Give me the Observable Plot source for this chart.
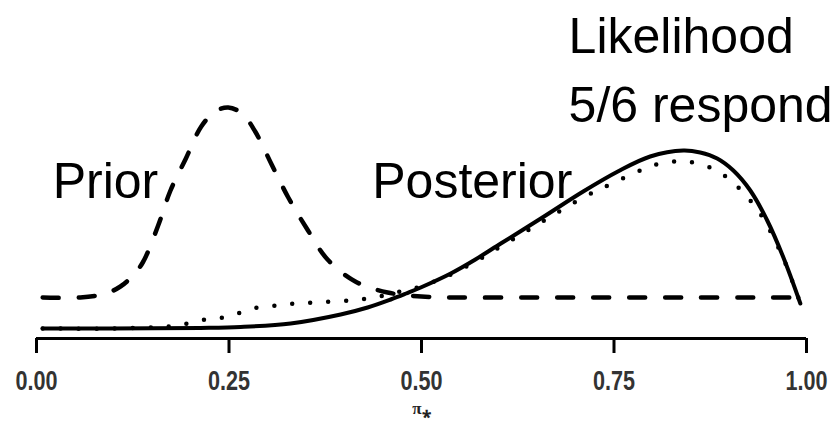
<!DOCTYPE html>
<html>
<head>
<meta charset="utf-8">
<script src="https://cdn.jsdelivr.net/npm/d3@7"></script>
<script src="https://cdn.jsdelivr.net/npm/@observablehq/plot@0.6"></script>
<style>
  html, body { margin: 0; padding: 0; background: #ffffff; }
  #chart svg { display: block; }
</style>
</head>
<body>
<div id="chart"></div>
<script>
// Prior (dashed)
const priorX = [0.008, 0.057, 0.090, 0.109, 0.124, 0.138, 0.158, 0.174, 0.194, 0.214, 0.232, 0.249, 0.267, 0.284, 0.306, 0.327, 0.351, 0.378, 0.414, 0.456, 0.50, 0.55, 0.65, 0.75, 0.85, 0.95, 0.983];
const priorY = [0.31, 0.31, 0.35, 0.42, 0.52, 0.66, 1.03, 1.38, 1.70, 2.02, 2.17, 2.21, 2.15, 1.97, 1.63, 1.31, 1.00, 0.69, 0.47, 0.36, 0.32, 0.31, 0.31, 0.31, 0.31, 0.31, 0.31];

// Likelihood (solid)
const likeX = [0.008, 0.08, 0.15, 0.213, 0.265, 0.330, 0.395, 0.430, 0.460, 0.480, 0.499, 0.538, 0.570, 0.603, 0.655, 0.710, 0.755, 0.797, 0.840, 0.862, 0.884, 0.905, 0.927, 0.949, 0.970, 0.992];
const likeY = [0, 0, 0.002, 0.006, 0.015, 0.05, 0.14, 0.21, 0.29, 0.35, 0.41, 0.55, 0.69, 0.85, 1.10, 1.37, 1.57, 1.72, 1.78, 1.76, 1.70, 1.58, 1.38, 1.08, 0.71, 0.25];

// Posterior (dotted)
const postX = [0.008, 0.10, 0.17, 0.196, 0.219, 0.242, 0.265, 0.287, 0.313, 0.336, 0.360, 0.384, 0.408, 0.430, 0.451, 0.473, 0.499, 0.538, 0.570, 0.603, 0.655, 0.710, 0.745, 0.784, 0.810, 0.843, 0.875, 0.897, 0.914, 0.927, 0.943, 0.970, 0.992];
const postY = [0, 0, 0.02, 0.05, 0.09, 0.11, 0.16, 0.21, 0.23, 0.25, 0.26, 0.27, 0.28, 0.30, 0.33, 0.37, 0.42, 0.54, 0.67, 0.82, 1.06, 1.31, 1.44, 1.58, 1.65, 1.67, 1.61, 1.51, 1.39, 1.28, 1.11, 0.70, 0.25];

// Axis ticks
const tickValues = [0, 0.25, 0.5, 0.75, 1];
const tickLabels = ["0.00", "0.25", "0.50", "0.75", "1.00"];
const axisTitle = "π⁎";

// Curve labels
const labelText = ["Prior", "Posterior", "Likelihood", "5/6 respond"];
const labelX = [0.021, 0.436, 0.691, 0.691];
const labelY = [1.31, 1.31, 2.76, 2.07];

const toRows = (xs, ys) => xs.map((x, i) => ({x, y: ys[i]}));
const prior = toRows(priorX, priorY);
const like = toRows(likeX, likeY);
const post = toRows(postX, postY);
const labels = labelText.map((t, i) => ({t, x: labelX[i], y: labelY[i]}));

const chart = Plot.plot({
  width: 838,
  height: 422,
  marginLeft: 36,
  marginRight: 32,
  marginTop: 0,
  marginBottom: 84,
  style: {background: "#ffffff", overflow: "visible"},
  x: {domain: [0, 1], axis: null},
  y: {domain: [-0.1, 3.28], axis: null},
  marks: [
    Plot.ruleY([-0.1], {x1: 0, x2: 1, stroke: "#000", strokeWidth: 3}),
    Plot.axisX({
      ticks: tickValues,
      tickFormat: d => tickLabels[tickValues.indexOf(d)],
      tickSize: 15,
      tickPadding: 17,
      strokeWidth: 3,
      stroke: "#000",
      fontSize: 27,
      fontWeight: "bold",
      fontFamily: "'Liberation Sans Narrow', 'Arial Narrow', 'Liberation Sans', sans-serif",
      fill: "#333",
      label: null
    }),
    Plot.text([axisTitle], {x: () => 0.5, text: d => d, frameAnchor: "bottom", dy: 75, fontSize: 17, fontWeight: "bold", fontFamily: "'Liberation Serif', serif", fill: "#222"}),
    Plot.line(prior, {x: "x", y: "y", stroke: "#000", strokeWidth: 4.5, strokeDasharray: "16 20", curve: "catmull-rom"}),
    Plot.line(post, {x: "x", y: "y", stroke: "#000", strokeWidth: 4.5, strokeDasharray: "0 18", strokeLinecap: "round", curve: "catmull-rom"}),
    Plot.line(like, {x: "x", y: "y", stroke: "#000", strokeWidth: 4, curve: "catmull-rom"}),
    Plot.text(labels, {x: "x", y: "y", text: "t", textAnchor: "start", lineAnchor: "bottom", fontSize: 50, fontFamily: "'Liberation Sans', Arial, sans-serif", fill: "#000"})
  ]
});
// condense tick labels horizontally (narrow face in the reference)
d3.select(chart).selectAll('g[aria-label="x-axis tick label"] text').each(function() {
  const t = this.getAttribute("transform") || "";
  this.setAttribute("transform", t + " scale(0.8,1)");
});
document.getElementById("chart").appendChild(chart);
</script>
</body>
</html>
